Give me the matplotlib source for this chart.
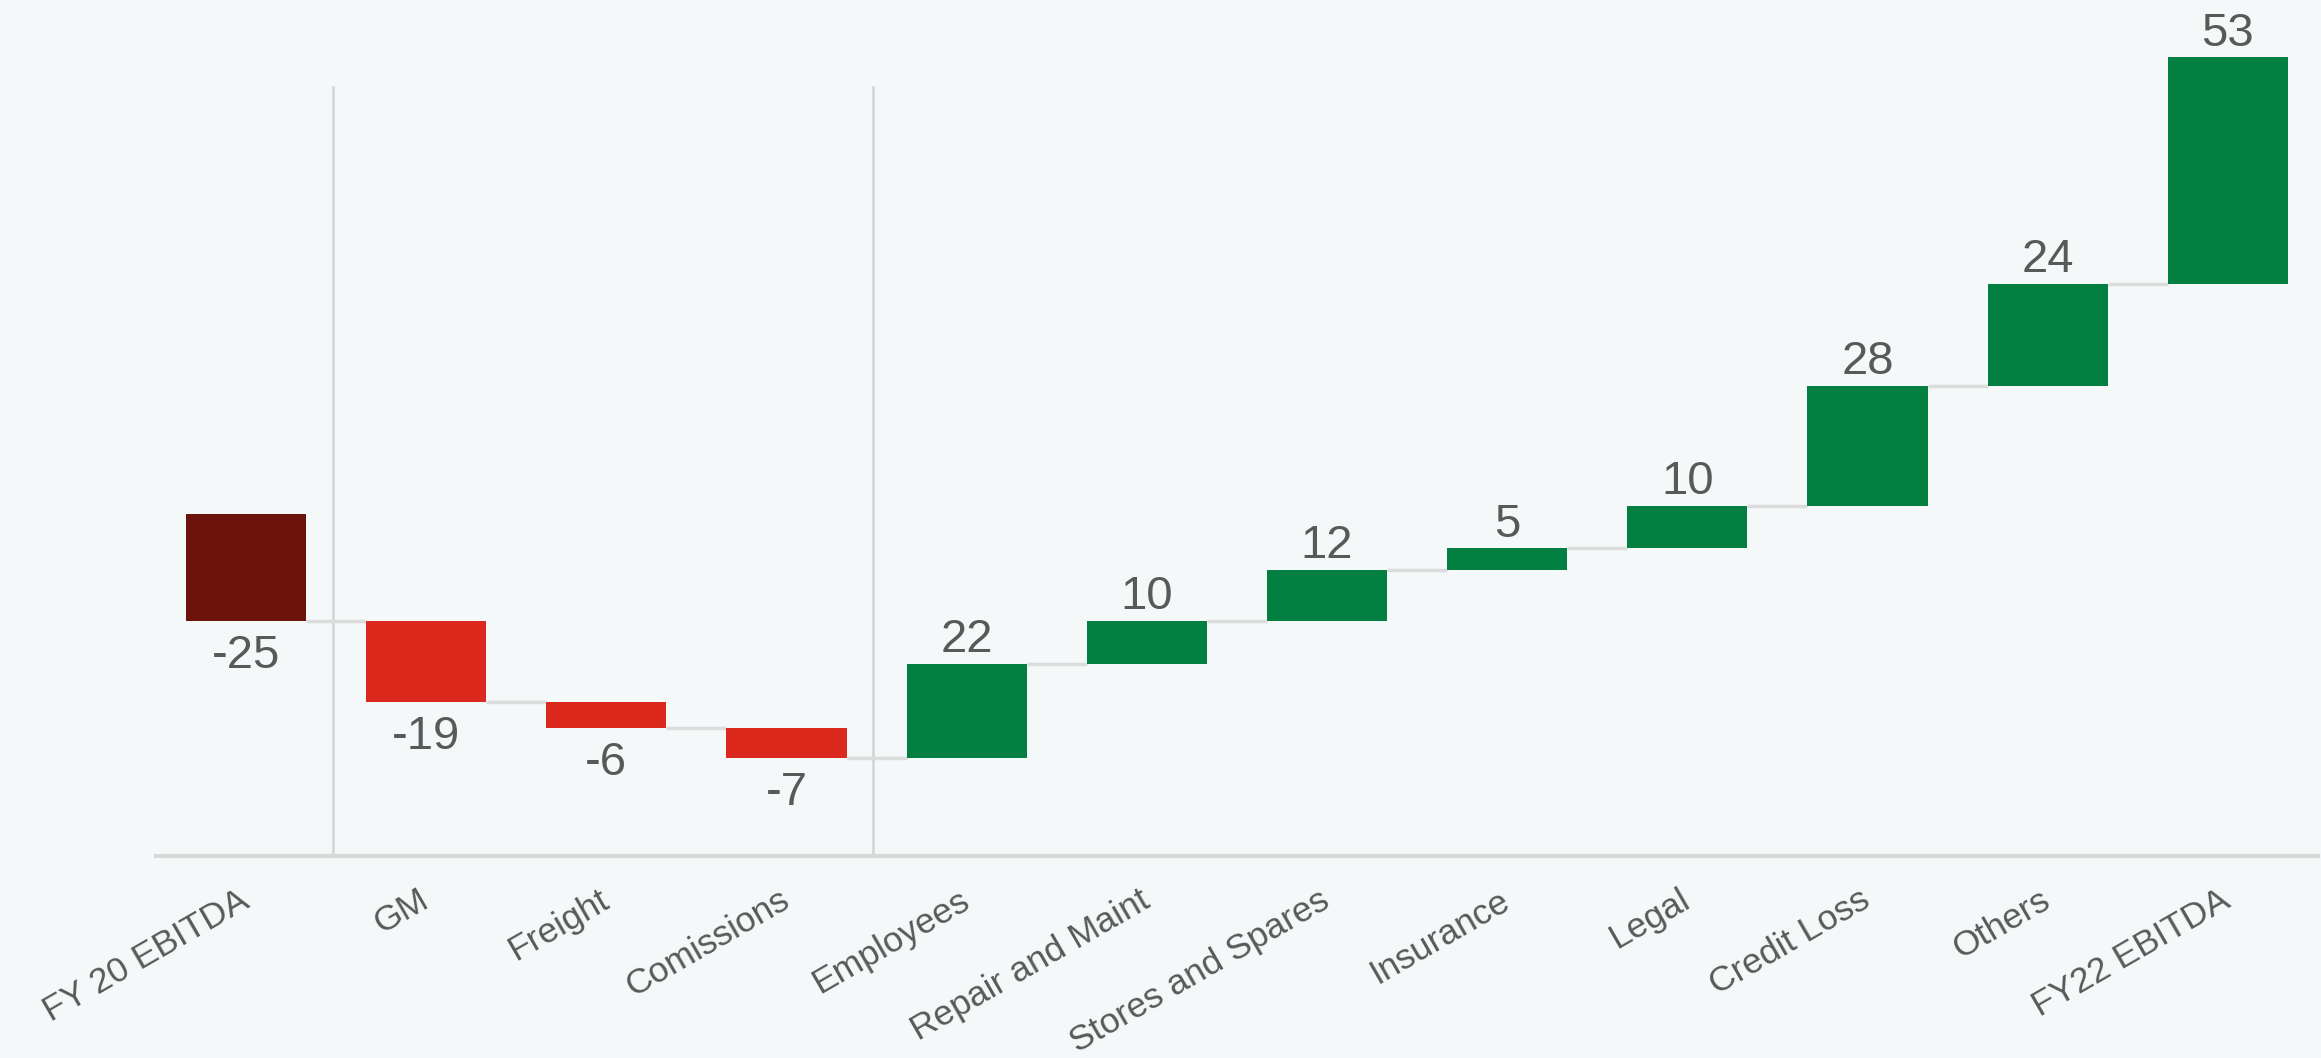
import matplotlib
matplotlib.use("Agg")
import matplotlib.pyplot as plt

categories = ["FY 20 EBITDA", "GM", "Freight", "Comissions", "Employees",
              "Repair and Maint", "Stores and Spares", "Insurance", "Legal",
              "Credit Loss", "Others", "FY22 EBITDA"]
values = [-25, -19, -6, -7, 22, 10, 12, 5, 10, 28, 24, 53]
separators_after = [0, 3]

BG = "#f4f8f9"
DARK_RED = "#6c140c"
RED = "#dc291e"
GREEN = "#037f41"
TXT = "#595959"

plt.rcParams['font.family'] = ['Liberation Sans', 'DejaVu Sans']

fig = plt.figure(figsize=(23.21, 10.58), dpi=100, facecolor=BG)
ax = fig.add_axes([0.0672, 0.1909, 0.9315, 0.8091])
ax.set_facecolor(BG)

n = len(values)
bottoms, heights, colors, ends, label_y, label_va = [], [], [], [], [], []
level = 0.0
for i, v in enumerate(values):
    if i == 0:
        b, h = 0.0, abs(v)
        colors.append(DARK_RED)
        ends.append(0.0)
        label_y.append(0.0); label_va.append('top')
    else:
        b, h = level, v
        level += v
        colors.append(GREEN if v >= 0 else RED)
        ends.append(level)
        label_y.append(b + h)
        label_va.append('bottom' if v >= 0 else 'top')
    bottoms.append(b); heights.append(h)

width = 0.667
x = list(range(n))
ax.bar(x, heights, bottom=bottoms, width=width, color=colors, zorder=3)

for i in range(n - 1):
    ax.plot([i + width / 2, i + 1 - width / 2], [ends[i], ends[i]],
            color="#dcdcdc", lw=2.5, zorder=2, solid_capstyle='butt')

for s in separators_after:
    ax.plot([s + 0.48, s + 0.48], [-55, 125], color="#d4d4d4", lw=1.8, zorder=1)

for i, v in enumerate(values):
    off = 0.4 if label_va[i] == 'bottom' else -3.0
    ax.text(i, label_y[i] + off, f"{v}", ha='center', va=label_va[i],
            fontsize=34, color=TXT, zorder=4)

ax.set_xlim(-0.5, n - 0.5)
ax.set_ylim(-55, 145.4)
ax.set_yticks([])
ax.set_xticks(x)
ax.set_xticklabels(categories, rotation=30, ha='right', va='center',
                   rotation_mode='anchor', fontsize=25.5, color=TXT)
ax.tick_params(axis='x', length=0, pad=30)
for sp in ['top', 'right', 'left']:
    ax.spines[sp].set_visible(False)
ax.spines['bottom'].set_color("#d9d9d9")
ax.spines['bottom'].set_linewidth(3)

fig.savefig("out.png", dpi=100, facecolor=BG)
